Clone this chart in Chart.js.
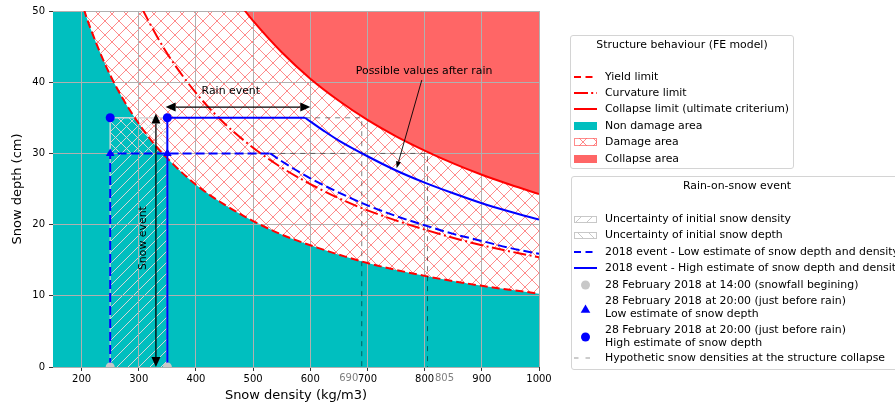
<!DOCTYPE html>
<html>
<head>
<meta charset="utf-8">
<script src="https://cdn.jsdelivr.net/npm/chart.js@4.4.1/dist/chart.umd.min.js"></script>
<style>
  html, body { margin: 0; padding: 0; background: #fff; overflow: hidden; }
  #wrap { position: relative; width: 895px; height: 406px; overflow: hidden;
          font-family: "DejaVu Sans", sans-serif; font-size: 10.9px; color: #000; }
  #chart { position: absolute; left: 0; top: 0; }
  .box { position: absolute; box-sizing: border-box; background: rgba(255,255,255,0.8);
         border: 1px solid #d4d4d4; border-radius: 3px; }
  .ttl { position: absolute; text-align: center; line-height: 12px; white-space: nowrap; }
  .sym { position: absolute; left: 574px; width: 23px; height: 12px; }
  .txt { position: absolute; left: 605px; line-height: 12px; white-space: nowrap; }
  .two { line-height: 13.3px; }
</style>
</head>
<body>
<div id="wrap">
  <canvas id="chart" width="895" height="406"></canvas>

  <svg width="0" height="0" style="position:absolute">
    <defs>
      <pattern id="hx" width="14" height="14" patternUnits="userSpaceOnUse" x="2" y="-1">
        <path d="M-1,-1L15,15M-1,15L15,-1" stroke="rgba(255,0,0,0.46)" stroke-width="1"/>
      </pattern>
      <pattern id="hs" width="11" height="11" patternUnits="userSpaceOnUse">
        <path d="M-1,12L12,-1" stroke="#c8c8c8" stroke-width="1"/>
      </pattern>
      <pattern id="hb" width="11" height="11" patternUnits="userSpaceOnUse">
        <path d="M-1,-1L12,12" stroke="#c8c8c8" stroke-width="1"/>
      </pattern>
    </defs>
  </svg>

  <!-- Structure behaviour legend -->
  <div class="box" style="left:570px; top:35px; width:224px; height:134px;"></div>
  <div class="ttl" style="left:570px; width:224px; top:39px;">Structure behaviour (FE model)</div>

  <svg class="sym" style="top:71px"><line x1="0" y1="6" x2="23" y2="6" stroke="#f00" stroke-width="2" stroke-dasharray="7 4.5"/></svg>
  <div class="txt" style="top:71px">Yield limit</div>

  <svg class="sym" style="top:87px"><line x1="0" y1="6" x2="23" y2="6" stroke="#f00" stroke-width="2" stroke-dasharray="14 3.2 2 3.2"/></svg>
  <div class="txt" style="top:87px">Curvature limit</div>

  <svg class="sym" style="top:103px"><line x1="0" y1="6" x2="23" y2="6" stroke="#f00" stroke-width="2"/></svg>
  <div class="txt" style="top:103px">Collapse limit (ultimate criterium)</div>

  <svg class="sym" style="top:120px"><rect x="0" y="2" width="23" height="8" fill="#00bfbf"/></svg>
  <div class="txt" style="top:120px">Non damage area</div>

  <svg class="sym" style="top:136px"><rect x="0.5" y="2.5" width="22" height="7" fill="url(#hx)" stroke="rgba(255,0,0,0.45)"/></svg>
  <div class="txt" style="top:136px">Damage area</div>

  <svg class="sym" style="top:153px"><rect x="0" y="2" width="23" height="8" fill="#ff6666"/></svg>
  <div class="txt" style="top:153px">Collapse area</div>

  <!-- Rain-on-snow legend -->
  <div class="box" style="left:571px; top:176px; width:332px; height:194px;"></div>
  <div class="ttl" style="left:571px; width:332px; top:180px;">Rain-on-snow event</div>

  <svg class="sym" style="top:213px"><rect x="0.5" y="3.5" width="22" height="6" fill="url(#hs)" stroke="#c8c8c8"/></svg>
  <div class="txt" style="top:213px">Uncertainty of initial snow density</div>

  <svg class="sym" style="top:229px"><rect x="0.5" y="3.5" width="22" height="6" fill="url(#hb)" stroke="#c8c8c8"/></svg>
  <div class="txt" style="top:229px">Uncertainty of initial snow depth</div>

  <svg class="sym" style="top:246px"><line x1="0" y1="6" x2="23" y2="6" stroke="#00f" stroke-width="2" stroke-dasharray="7 4.5"/></svg>
  <div class="txt" style="top:246px">2018 event - Low estimate of snow depth and density</div>

  <svg class="sym" style="top:262px"><line x1="0" y1="6" x2="23" y2="6" stroke="#00f" stroke-width="2"/></svg>
  <div class="txt" style="top:262px">2018 event - High estimate of snow depth and density</div>

  <svg class="sym" style="top:279px"><circle cx="11.5" cy="6" r="4.5" fill="#c8c8c8"/></svg>
  <div class="txt" style="top:279px">28 February 2018 at 14:00 (snowfall begining)</div>

  <svg class="sym" style="top:303px"><polygon points="11.5,1.5 16.3,9.8 6.7,9.8" fill="#00f"/></svg>
  <div class="txt two" style="top:294px">28 February 2018 at 20:00 (just before rain)<br>Low estimate of snow depth</div>

  <svg class="sym" style="top:331px"><circle cx="11.5" cy="6" r="4.5" fill="#00f"/></svg>
  <div class="txt two" style="top:323px">28 February 2018 at 20:00 (just before rain)<br>High estimate of snow depth</div>

  <svg class="sym" style="top:352px"><line x1="0" y1="6" x2="23" y2="6" stroke="rgba(0,0,0,0.4)" stroke-width="1" stroke-dasharray="4.5 7"/></svg>
  <div class="txt" style="top:352px">Hypothetic snow densities at the structure collapse</div>
</div>

<script>
// axis ticks
const densityTicks = [200, 300, 400, 500, 600, 700, 800, 900, 1000];
const depthTicks = [0, 10, 20, 30, 40, 50];
const collapseDensityLabels = [690, 805];

// structure limits (FE model)
const yieldDensity = [150, 175, 205, 225, 250, 275, 300, 325, 350, 400, 450, 500, 550, 600, 700, 800, 900, 1000];
const yieldDepth = [68.3, 58.6, 50.0, 45.6, 41.0, 37.3, 34.2, 31.5, 29.3, 25.6, 22.8, 20.5, 18.6, 17.1, 14.6, 12.8, 11.4, 10.3];

const curvatureDensity = [290, 308, 350, 400, 450, 500, 550, 600, 650, 700, 800, 900, 1000];
const curvatureDepth = [53.1, 50.0, 44.0, 38.5, 34.2, 30.8, 28.0, 25.7, 23.7, 22.0, 19.3, 17.1, 15.4];

const collapseDensity = [150, 200, 250, 300, 350, 400, 450, 486, 500, 550, 600, 650, 700, 750, 800, 850, 900, 950, 1000];
const collapseDepth = [162, 121.5, 97.2, 81.0, 69.4, 60.8, 54.0, 50.0, 48.6, 44.2, 40.5, 37.4, 34.7, 32.4, 30.4, 28.6, 27.0, 25.6, 24.3];

// 2018 event paths
const lowPathDensity = [250, 250, 530];
const lowPathDepth = [0, 30, 30];
const lowCurveDensity = [530, 550, 600, 650, 700, 750, 800, 850, 900, 950, 1000];
const lowCurveDepth = [30.0, 28.9, 26.5, 24.5, 22.7, 21.2, 19.9, 18.7, 17.7, 16.7, 15.9];

const highPathDensity = [350, 350, 591];
const highPathDepth = [0, 35, 35];
const highCurveDensity = [591, 625, 650, 700, 750, 800, 850, 900, 950, 1000];
const highCurveDepth = [35.0, 33.1, 31.8, 29.6, 27.6, 25.9, 24.4, 23.0, 21.8, 20.7];

// hypothetic densities at collapse
const hypoHighDensity = [591, 690, 690];
const hypoHighDepth = [35, 35, 0];
const hypoLowDensity = [530, 805, 805];
const hypoLowDepth = [30, 30, 0];

// observations
const initialDensity = [250, 350];
const snowfallDepth = [0, 0];
const lowDepth = [30, 30];
const highDepth = [35, 35];

// uncertainty boxes
const densityBoxDensity = [250, 250, 350, 350];
const densityBoxDepth = [0, 35, 35, 0];
const depthBoxDensity = [250, 250, 350, 350];
const depthBoxDepth = [30, 35, 35, 30];

// annotations (data coordinates)
const rainArrowDensity = [347, 600];
const rainArrowDepth = [36.5, 36.5];
const snowArrowDensity = [330, 330];
const snowArrowDepth = [0, 35.6];
const afterRainArrowDensity = [795, 751];
const afterRainArrowDepth = [40.3, 27.9];
const rainLabel = [461, 38.7];
const snowLabel = [308, 18.1];
const afterRainLabel = [799, 41.6];

const FONT = '"DejaVu Sans", sans-serif';
const xy = (xs, ys) => xs.map((x, i) => ({ x: x, y: ys[i] }));

function makeHatch(size, color, dirs) {
  const c = document.createElement('canvas');
  c.width = size;
  c.height = size;
  const g = c.getContext('2d');
  g.strokeStyle = color;
  g.lineWidth = 1;
  g.beginPath();
  if (dirs.indexOf('/') >= 0) { g.moveTo(-1, size + 1); g.lineTo(size + 1, -1); }
  if (dirs.indexOf('\\') >= 0) { g.moveTo(-1, -1); g.lineTo(size + 1, size + 1); }
  g.stroke();
  return g.createPattern(c, 'repeat');
}

const damageHatch = makeHatch(14, 'rgba(255,0,0,0.46)', '/\\');
const densityHatch = makeHatch(11, '#d6d6d6', '/');
const depthHatch = makeHatch(11, '#d6d6d6', '\\');

const none = 'rgba(0,0,0,0)';
const line = (data, color, extra) => Object.assign({
  data: data, borderColor: color, borderWidth: 2, pointRadius: 0, fill: false, tension: 0, clip: 0
}, extra || {});

function arrowHead(ctx, tipX, tipY, fromX, fromY, len, half) {
  const a = Math.atan2(tipY - fromY, tipX - fromX);
  const bx = tipX - len * Math.cos(a), by = tipY - len * Math.sin(a);
  ctx.beginPath();
  ctx.moveTo(tipX, tipY);
  ctx.lineTo(bx + half * Math.sin(a), by - half * Math.cos(a));
  ctx.lineTo(bx - half * Math.sin(a), by + half * Math.cos(a));
  ctx.closePath();
  ctx.fill();
}

function arrow(ctx, x1, y1, x2, y2, both, len, half, width) {
  const a = Math.atan2(y2 - y1, x2 - x1);
  const sx = both ? x1 + len * Math.cos(a) : x1, sy = both ? y1 + len * Math.sin(a) : y1;
  const ex = x2 - len * Math.cos(a), ey = y2 - len * Math.sin(a);
  ctx.lineWidth = width;
  ctx.beginPath();
  ctx.moveTo(sx, sy);
  ctx.lineTo(ex, ey);
  ctx.stroke();
  arrowHead(ctx, x2, y2, x1, y1, len, half);
  if (both) arrowHead(ctx, x1, y1, x2, y2, len, half);
}

const annotations = {
  id: 'annotations',
  afterDraw(chart) {
    const ctx = chart.ctx;
    const sx = chart.scales.x, sy = chart.scales.y;
    const px = v => sx.getPixelForValue(v), py = v => sy.getPixelForValue(v);
    ctx.save();
    ctx.strokeStyle = '#000';
    ctx.fillStyle = '#000';
    arrow(ctx, px(rainArrowDensity[0]), py(rainArrowDepth[0]), px(rainArrowDensity[1]), py(rainArrowDepth[1]), true, 10, 4.5, 1.3);
    arrow(ctx, px(snowArrowDensity[0]), py(snowArrowDepth[0]), px(snowArrowDensity[1]), py(snowArrowDepth[1]), true, 10, 4.5, 1.3);
    arrow(ctx, px(afterRainArrowDensity[0]), py(afterRainArrowDepth[0]), px(afterRainArrowDensity[1]), py(afterRainArrowDepth[1]), false, 7, 2.5, 0.9);

    ctx.font = '10.9px ' + FONT;
    ctx.textAlign = 'center';
    ctx.textBaseline = 'middle';
    ctx.fillText('Rain event', px(rainLabel[0]), py(rainLabel[1]));
    ctx.fillText('Possible values after rain', px(afterRainLabel[0]), py(afterRainLabel[1]));
    ctx.save();
    ctx.translate(px(snowLabel[0]), py(snowLabel[1]));
    ctx.rotate(-Math.PI / 2);
    ctx.fillText('Snow event', 0, 0);
    ctx.restore();

    // grey tick labels for the collapse densities
    ctx.font = '10px ' + FONT;
    ctx.fillStyle = '#808080';
    ctx.textBaseline = 'top';
    const yLab = chart.chartArea.bottom + 6;
    ctx.textAlign = 'right';
    ctx.fillText(String(collapseDensityLabels[0]), px(collapseDensityLabels[0]) - 3.5, yLab);
    ctx.textAlign = 'left';
    ctx.fillText(String(collapseDensityLabels[1]), px(collapseDensityLabels[1]) + 7.5, yLab);
    ctx.restore();
  }
};

new Chart(document.getElementById('chart'), {
  type: 'line',
  data: {
    datasets: [
      // markers (top)
      { data: xy(initialDensity, highDepth), showLine: false, pointStyle: 'circle', pointRadius: 4.5,
        backgroundColor: '#00f', borderColor: '#00f', borderWidth: 0 },
      { data: xy(initialDensity, lowDepth), showLine: false, pointStyle: 'triangle', pointRadius: 5,
        backgroundColor: '#00f', borderColor: '#00f', borderWidth: 0 },
      { data: xy(initialDensity, snowfallDepth), showLine: false, pointStyle: 'circle', pointRadius: 4.5,
        backgroundColor: '#c8c8c8', borderColor: '#c8c8c8', borderWidth: 0, clip: 0 },
      // event paths
      line(xy(highPathDensity, highPathDepth), '#00f'),
      line(xy(highCurveDensity, highCurveDepth), '#00f', { cubicInterpolationMode: 'monotone' }),
      line(xy(lowPathDensity, lowPathDepth), '#00f', { borderDash: [9, 4] }),
      line(xy(lowCurveDensity, lowCurveDepth), '#00f', { borderDash: [9, 4], cubicInterpolationMode: 'monotone' }),
      // hypothetic collapse densities
      line(xy(hypoHighDensity, hypoHighDepth), 'rgba(0,0,0,0.5)', { borderWidth: 1, borderDash: [5, 5] }),
      line(xy(hypoLowDensity, hypoLowDepth), 'rgba(0,0,0,0.5)', { borderWidth: 1, borderDash: [5, 5] }),
      // limits
      line(xy(curvatureDensity, curvatureDepth), '#f00', { borderDash: [13, 3.5, 2, 3.5], cubicInterpolationMode: 'monotone' }),
      line(xy(collapseDensity, collapseDepth), '#f00', { cubicInterpolationMode: 'monotone' }),
      line(xy(yieldDensity, yieldDepth), '#f00', { borderDash: [8, 4], cubicInterpolationMode: 'monotone' }),
      // uncertainty boxes
      line(xy(depthBoxDensity, depthBoxDepth), '#d6d6d6', { borderWidth: 1, fill: { value: 30 }, backgroundColor: depthHatch }),
      line(xy(densityBoxDensity, densityBoxDepth), '#d6d6d6', { borderWidth: 1, fill: 'origin', backgroundColor: densityHatch }),
      // areas
      line(xy(collapseDensity, collapseDepth), none, { fill: 'end', backgroundColor: '#ff6666', cubicInterpolationMode: 'monotone' }),
      line(xy(yieldDensity, yieldDepth), none, { fill: 'origin', backgroundColor: '#00bfbf', cubicInterpolationMode: 'monotone' }),
      line(xy(collapseDensity, collapseDepth), none, { fill: 'origin', backgroundColor: damageHatch, cubicInterpolationMode: 'monotone' })
    ]
  },
  options: {
    responsive: false,
    animation: false,
    events: [],
    layout: { padding: { left: 0, top: 11, right: 356, bottom: 0 } },
    plugins: {
      legend: { display: false },
      tooltip: { enabled: false },
      filler: { drawTime: 'beforeDraw' }
    },
    scales: {
      x: {
        type: 'linear',
        min: 150,
        max: 1000,
        afterBuildTicks: s => { s.ticks = densityTicks.map(v => ({ value: v })); },
        afterFit: s => { s.height = 39; },
        border: { display: false },
        grid: { color: '#b0b0b0', lineWidth: 1, tickLength: 4, tickColor: '#333' },
        ticks: { color: '#000', font: { family: FONT, size: 10 }, padding: 2, maxRotation: 0, autoSkip: false,
                 callback: v => String(v) },
        title: { display: true, text: 'Snow density (kg/m3)', color: '#000',
                 font: { family: FONT, size: 13 }, padding: { top: 2, bottom: 3 } }
      },
      y: {
        min: 0,
        max: 50,
        afterBuildTicks: s => { s.ticks = depthTicks.map(v => ({ value: v })); },
        afterFit: s => { s.width = 53; },
        border: { display: false },
        grid: { color: '#b0b0b0', lineWidth: 1, tickLength: 4, tickColor: '#333' },
        ticks: { color: '#000', font: { family: FONT, size: 10 }, padding: 4, callback: v => String(v) },
        title: { display: true, text: 'Snow depth (cm)', color: '#000',
                 font: { family: FONT, size: 13 }, padding: { top: 10, bottom: 10 } }
      }
    }
  },
  plugins: [annotations]
});
</script>
</body>
</html>
